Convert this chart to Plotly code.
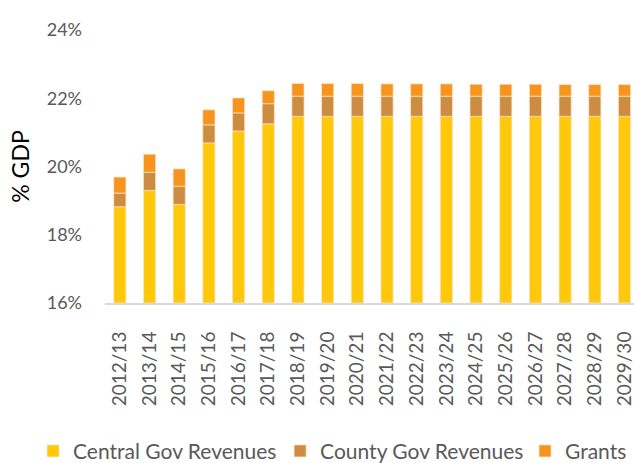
import plotly.graph_objects as go

years = ["2012/13", "2013/14", "2014/15", "2015/16", "2016/17", "2017/18",
         "2018/19", "2019/20", "2020/21", "2021/22", "2022/23", "2023/24",
         "2024/25", "2025/26", "2026/27", "2027/28", "2028/29", "2029/30"]

central = [18.82, 19.30, 18.89, 20.69, 21.04, 21.25,
           21.47, 21.47, 21.47, 21.47, 21.47, 21.47,
           21.47, 21.47, 21.47, 21.47, 21.47, 21.47]
county = [0.40, 0.53, 0.53, 0.53, 0.53, 0.59,
          0.59, 0.59, 0.59, 0.59, 0.59, 0.59,
          0.59, 0.59, 0.59, 0.59, 0.59, 0.59]
grants = [0.47, 0.53, 0.51, 0.44, 0.44, 0.38,
          0.37, 0.37, 0.37, 0.36, 0.36, 0.36,
          0.35, 0.35, 0.35, 0.34, 0.34, 0.34]

# stack on the 16% baseline of the axis
base = 16.0
central_h = [c - base for c in central]

names = ["Central Gov Revenues", "County Gov Revenues", "Grants"]
colors = ["#FFC80A", "#CE8C40", "#F7941D"]
edge = "rgba(255,230,200,0.7)"

fig = go.Figure()
fig.add_trace(go.Bar(x=years, y=central_h, base=base, name=names[0], legend="legend",
                     marker=dict(color=colors[0], line=dict(color=edge, width=1))))
bottoms2 = [c for c in central]
fig.add_trace(go.Bar(x=years, y=county, base=bottoms2, name=names[1], legend="legend2",
                     marker=dict(color=colors[1], line=dict(color=edge, width=1))))
bottoms3 = [c + k for c, k in zip(central, county)]
fig.add_trace(go.Bar(x=years, y=grants, base=bottoms3, name=names[2], legend="legend3",
                     marker=dict(color=colors[2], line=dict(color=edge, width=1))))

font_family = "Lato, 'Open Sans', sans-serif"

def leg(xpos):
    return dict(orientation="h", x=xpos, xanchor="left", y=-0.543, yanchor="middle",
                font=dict(size=21, color="#595959"), itemwidth=30,
                bgcolor="rgba(0,0,0,0)")

fig.update_layout(
    width=634, height=463,
    margin=dict(l=105, r=0, t=30, b=160, autoexpand=False),
    barmode="overlay",
    bargap=0.59,
    plot_bgcolor="white", paper_bgcolor="white",
    font=dict(family=font_family, color="#595959"),
    showlegend=True,
    legend=leg(-0.136), legend2=leg(0.331), legend3=leg(0.794),
    xaxis=dict(type="category", range=[-0.5, 17.32], tickangle=-90, automargin=False,
               tickfont=dict(size=19, color="#595959"), showgrid=False,
               showline=True, linecolor="#D9D9D9", linewidth=2, ticks="",
               ticklabelstandoff=19),
    yaxis=dict(range=[16, 24], tickvals=[16, 18, 20, 22, 24], automargin=False,
               ticktext=["16%", "18%", "20%", "22%", "24%"],
               tickfont=dict(size=18, color="#595959"), showgrid=False,
               zeroline=False, showline=False, ticks="", ticklabelstandoff=22,
               title=dict(text="% GDP", font=dict(size=23, color="#000000"), standoff=10)),
)

fig.write_html("out.html", config={"displayModeBar": False},
               post_script="document.body.style.margin='0';document.body.style.overflow='hidden';")
